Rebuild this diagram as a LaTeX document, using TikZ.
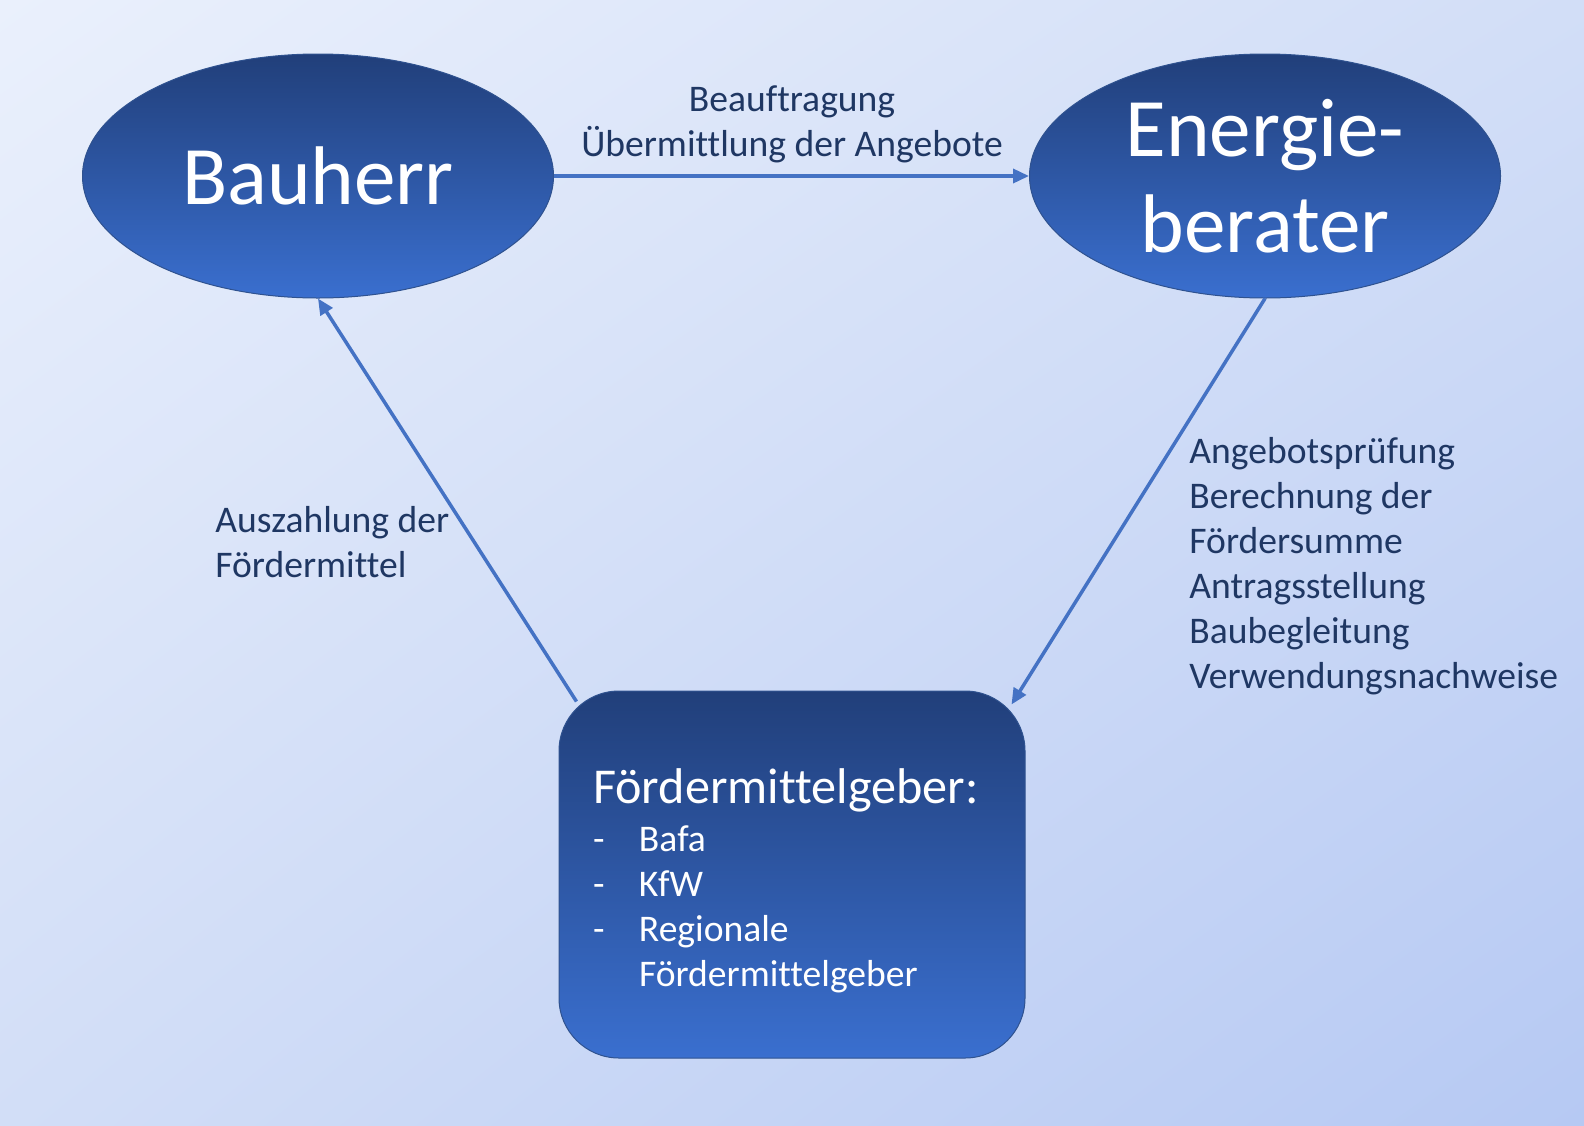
\documentclass[tikz,border=0pt]{standalone}
\usepackage{fontspec}
\setmainfont{Carlito}[Ligatures=CommonOff]
\usetikzlibrary{arrows.meta,calc,positioning,shapes.geometric,shadings}
\definecolor{BgLight}{HTML}{EAF0FC}
\definecolor{BgMid}{HTML}{D2DEF7}
\definecolor{BgDark}{HTML}{B6C9F3}
\definecolor{NodeTop}{HTML}{213F7A}
\definecolor{NodeBottom}{HTML}{3A6FCF}
\definecolor{NodeEdge}{HTML}{2F528F}
\definecolor{Flow}{HTML}{4472C4}
\definecolor{Ink}{HTML}{1F3763}

\begin{document}
\begin{tikzpicture}[x=0.5pt,y=-0.5pt,
          party/.style={ellipse,draw=NodeEdge,line width=0.5pt,
                        top color=NodeTop,bottom color=NodeBottom,text=white,
                        minimum width=235.5pt,minimum height=122pt,inner sep=0pt,
                        font=\fontsize{41.6}{48}\selectfont,align=center},
          funder/.style={rounded corners=30pt,draw=NodeEdge,line width=0.5pt,
                         top color=NodeTop,bottom color=NodeBottom,text=white,
                         minimum width=233pt,minimum height=183.5pt,
                         inner xsep=17pt,text width=199pt,align=left,
                         font=\fontsize{18.8}{22.5}\selectfont},
          flow/.style={-{Triangle[length=8pt,width=7pt]},line width=1.75pt,draw=Flow},
          note/.style={text=Ink,font=\fontsize{18.8}{22.5}\selectfont,inner sep=0pt}]
        \useasboundingbox (0,0) rectangle (1584,1125);
        \shade[upper left=BgLight,lower right=BgDark,upper right=BgMid,lower left=BgMid]
          (0,0) rectangle (1584,1125);
        \node[party] (bauherr) at (318,176) {Bauherr};
        \node[party] (berater) at (1265,176) {Energie-\\berater};
        \node[funder] (geber) at (792,874.5)
          {{\fontsize{25.1}{28}\selectfont\rule{0pt}{24pt}Fördermittelgeber:}\\[1.5pt]
           \makebox[23pt][l]{-}Bafa\\
           \makebox[23pt][l]{-}KfW\\
           \makebox[23pt][l]{-}Regionale\\
           \hspace*{23pt}Fördermittelgeber};
        % arrows meet the box on its rounded corners
        \coordinate (geberNE) at ($(geber.north east)+(-14,14)$);
        \coordinate (geberNW) at ($(geber.north west)+(18,11)$);
        \draw[flow] (bauherr) -- (berater);
        \draw[flow] (berater.south) -- (geberNE);
        \draw[flow] (geberNW) -- (bauherr.south);
        \node[note,align=center] (auftrag) at (792,124)
          {Beauftragung\\Übermittlung der Angebote};
        \node[note,align=left,anchor=west] (pruefung) at (1189,566.5)
          {Angebotsprüfung\\Berechnung der\\Fördersumme\\Antragsstellung\\
           Baubegleitung\\Verwendungsnachweise};
        \node[note,align=left,anchor=west] (auszahlung) at (215,542)
          {Auszahlung der\\Fördermittel};
\end{tikzpicture}
\end{document}
